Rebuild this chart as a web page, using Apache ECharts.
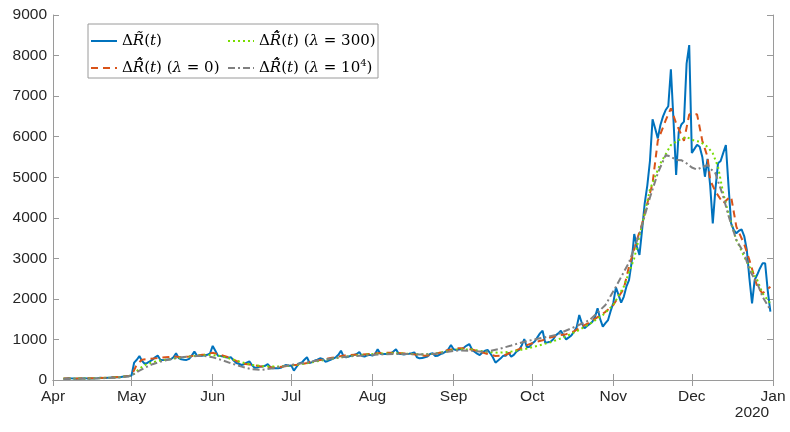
<!DOCTYPE html>
<html><head><meta charset="utf-8">
<script src="https://cdn.jsdelivr.net/npm/echarts@6/dist/echarts.min.js"></script>
<style>html,body{margin:0;padding:0;background:#fff}#c{width:790px;height:432px}</style>
</head><body><div id="c"></div>
<script>
// x: days after 1 Apr 2020
const blueStart = 4;
const blueVals = [
 30,40,45,40,35,30,35,40,45,40, 40,35,40,45,55,50,50,55,60,70, 70,65,75,85,90,95,
 110,430,500,
 590,470,400,420,460,500,560,
 600,500,490,500,505,510,560,
 660,540,510,500,495,520,600,
 700,600,590,600,610,620,660,
 840,720,600,590,580,560,550,
 560,480,420,400,370,390,430,
 460,370,300,310,329,330,350,
 390,320,288,290,288,300,340,
 370,350,360,230,320,410,430,
 500,560,420,440,480,500,534,
 520,452,470,500,530,560,620,
 723,575,560,580,600,620,640,
 690,590,580,610,620,600,640,
 756,650,641,640,641,650,700,
 756,650,641,630,641,650,660,
 682,560,534,540,560,580,640,
 658,592,600,640,660,698,760,
 863,760,740,750,756,800,850,
 887,760,698,650,616,680,720,
 740,658,560,427,480,534,600,
 600,674,575,620,698,740,850,
 1011,806,820,904,950,1050,1150,
 1216,920,930,945,1000,1100,1150,
 1216,1100,1003,1050,1100,1191,1300,
 1603,1400,1274,1330,1380,1438,1550,
 1767,1500,1315,1400,1479,1700,1900,
 2285,2100,1906,2050,2300,2465,2900,
 3600,3300,3082,3700,4356,4800,5400,
 6427,6200,5958,6287,6500,6657,6750,
 7660,6400,5054,6122,6300,6370,7800,
 8259,5600,5700,5800,5750,5500,5012,
 5450,4800,3863,4700,5342,5400,5600,
 5794,4800,3863,3700,3617,3680,3714,
 3550,3205,2500,1891,2465,2600,2750,
 2876,2876,2200,1684
];
const orangeDays = [4,10,16,22,28,30,32,34,37,40,43,46,49,52,55,58,61,64,67,70,73,76,79,82,85,88,91,94,97,100,103,106,109,112,115,118,121,124,127,130,133,136,139,142,145,148,151,154,157,160,163,166,169,172,175,178,181,184,187,190,193,196,199,202,205,208,211,214,216,218,220,223,225,227,229,231,234,236,238,241,243,246,248,250,251,253,256,258,259,261,264,266,269,271,274];
const orangeVals = [35,40,45,60,90,110,380,500,520,540,560,580,560,580,610,630,670,620,560,470,400,370,340,320,310,330,360,380,420,470,500,540,580,610,620,630,640,660,670,670,660,650,620,600,620,680,740,780,780,750,700,640,590,600,680,760,860,930,980,1050,1100,1130,1200,1320,1420,1550,1680,1850,2050,2250,2800,3450,3850,4360,4850,5900,6400,6700,6330,5900,6550,6550,5900,5500,4930,4650,4356,4480,4520,3780,3350,2958,2300,2137,2300];
const greenDays = [4,15,25,29,31,33,36,40,45,50,55,60,64,68,72,76,80,85,90,95,100,105,110,115,120,125,130,135,140,145,150,155,160,165,170,175,180,185,190,195,200,205,210,214,218,222,226,228,232,236,239,242,245,247,250,252,254,256,258,261,264,266,269,271,274];
const greenVals = [30,40,65,95,150,280,400,470,520,560,600,620,590,520,440,370,340,330,350,390,450,510,560,600,630,650,660,650,630,640,700,760,750,700,670,700,760,840,930,1050,1200,1380,1600,1850,2300,3000,4100,4700,5340,5794,5917,5990,5900,5876,5750,5590,5259,4603,4100,3452,3040,2794,2465,2137,1890];
const grayDays = [4,15,25,29,31,33,35,38,42,46,50,55,58,61,65,68,72,76,80,84,88,92,96,100,105,110,115,120,125,130,135,140,145,150,155,160,165,170,175,180,186,192,198,205,211,215,220,224,228,231,234,236,238,240,242,244,246,248,250,251,253,256,258,261,264,266,269,271,274];
const grayVals = [25,35,60,90,150,230,300,390,470,530,570,590,590,560,480,410,330,265,250,290,340,380,420,470,520,560,590,610,630,640,640,630,640,690,730,720,690,760,850,945,1028,1109,1274,1479,1849,2300,2900,3600,4500,5100,5547,5510,5424,5420,5342,5240,5190,5250,5300,5218,5100,4521,4050,3452,3123,2712,2384,2054,1726];
const monthLabels = ['Jan','Feb','Mar','Apr','May','Jun','Jul','Aug','Sep','Oct','Nov','Dec'];
const yearLabel = '2020';

function dayToTime(d){ return new Date(2020, 3, 1 + d).getTime(); }
const blueData = blueVals.map((v,i)=>[dayToTime(blueStart+i), v]);
const orangeData = orangeDays.map((d,i)=>[dayToTime(d), orangeVals[i]]);
const greenData = greenDays.map((d,i)=>[dayToTime(d), greenVals[i]]);
const grayData = grayDays.map((d,i)=>[dayToTime(d), grayVals[i]]);

const xMin = new Date(2020,3,1).getTime();
const xMax = new Date(2021,0,1).getTime();
const axisCol = '#9a9a9a';
const txtCol = '#262626';
const sans = 'Liberation Sans, Arial, sans-serif';
const serif = 'DejaVu Serif, Liberation Serif, serif';

const legendNames = {
  s0: '{n|Δ}{i|R\u0303}{n|(}{i|t}{n|)}',
  s1: '{n|Δ}{i|R\u0303\u0302}{n|(}{i|t}{n|) (}{i|λ}{n| = 0)}',
  s2: '{n|Δ}{i|R\u0303\u0302}{n|(}{i|t}{n|) (}{i|λ}{n| = 300)}',
  s3: '{n|Δ}{i|R\u0303\u0302}{n|(}{i|t}{n|) (}{i|λ}{n| = 10}{sup|4}{n|)}'
};
const rich = {
  n: {fontFamily: serif, fontSize: 15, color: '#000'},
  i: {fontFamily: serif, fontSize: 15, fontStyle: 'italic', color: '#000'},
  sup: {fontFamily: serif, fontSize: 10, color: '#000', padding: [0,0,9,0]}
};
const legendCommon = {
  orient: 'vertical', itemWidth: 26, itemHeight: 14, itemGap: 7, padding: 0,
  formatter: n => legendNames[n],
  textStyle: {rich: rich, lineHeight: 20},
  itemStyle: {opacity: 0},
  selectedMode: false, z: 10
};

const chart = echarts.init(document.getElementById('c'), null, {renderer: 'canvas'});
chart.setOption({
  animation: false,
  backgroundColor: '#fff',
  grid: {left: 53, right: 17, top: 15, bottom: 52},
  xAxis: [{
    type: 'time', min: xMin, max: xMax,
    minInterval: 28*864e5, maxInterval: 31*864e5,
    axisLine: {show: true, lineStyle: {color: axisCol, width: 1}},
    axisTick: {show: true, inside: true, length: 6, lineStyle: {color: axisCol}},
    splitLine: {show: false},
    minorTick: {show: false},
    axisLabel: {color: txtCol, fontFamily: sans, fontSize: 15.5, margin: 9, hideOverlap: false,
      showMinLabel: true, showMaxLabel: true,
      formatter: v => monthLabels[new Date(v).getMonth()]}
  }, {
    type: 'time', min: xMin, max: xMax, position: 'top',
    minInterval: 28*864e5, maxInterval: 31*864e5,
    axisLine: {show: true, lineStyle: {color: axisCol, width: 1}},
    axisTick: {show: true, inside: true, length: 6, lineStyle: {color: axisCol}},
    axisLabel: {show: false}, splitLine: {show: false}
  }],
  yAxis: [{
    type: 'value', min: 0, max: 9000, interval: 1000,
    axisLine: {show: true, lineStyle: {color: axisCol, width: 1}},
    axisTick: {show: true, inside: true, length: 6, lineStyle: {color: axisCol}},
    splitLine: {show: false},
    axisLabel: {color: txtCol, fontFamily: sans, fontSize: 15.5, margin: 6, formatter: v => String(v)}
  }, {
    type: 'value', min: 0, max: 9000, interval: 1000, position: 'right',
    axisLine: {show: true, lineStyle: {color: axisCol, width: 1}},
    axisTick: {show: true, inside: true, length: 6, lineStyle: {color: axisCol}},
    splitLine: {show: false}, axisLabel: {show: false}
  }],
  legend: [
    Object.assign({}, legendCommon, {left: 90, top: 31, data: ['s0','s1']}),
    Object.assign({}, legendCommon, {left: 227, top: 31, data: ['s2','s3']})
  ],
  graphic: [
    {type: 'rect', shape: {x: 88, y: 24, width: 290, height: 54}, style: {fill: '#fff', stroke: axisCol, lineWidth: 1}, z: 5},
    {type: 'text', x: 752, y: 413, style: {text: yearLabel, fill: txtCol, font: '15.5px ' + sans, align: 'center', verticalAlign: 'middle'}, z: 5}
  ],
  series: [
    {name: 's0', type: 'line', data: blueData, symbol: 'none', color: '#0072BD', lineStyle: {width: 2, color: '#0072BD'}},
    {name: 's1', type: 'line', data: orangeData, symbol: 'none', color: '#D95319', lineStyle: {width: 2, color: '#D95319', type: [7,5]}},
    {name: 's2', type: 'line', data: greenData, symbol: 'none', color: '#77DD00', lineStyle: {width: 2, color: '#77DD00', type: [2,3]}},
    {name: 's3', type: 'line', data: grayData, symbol: 'none', color: '#808080', lineStyle: {width: 2, color: '#808080', type: [7,3,2,3]}}
  ]
});
</script></body></html>
